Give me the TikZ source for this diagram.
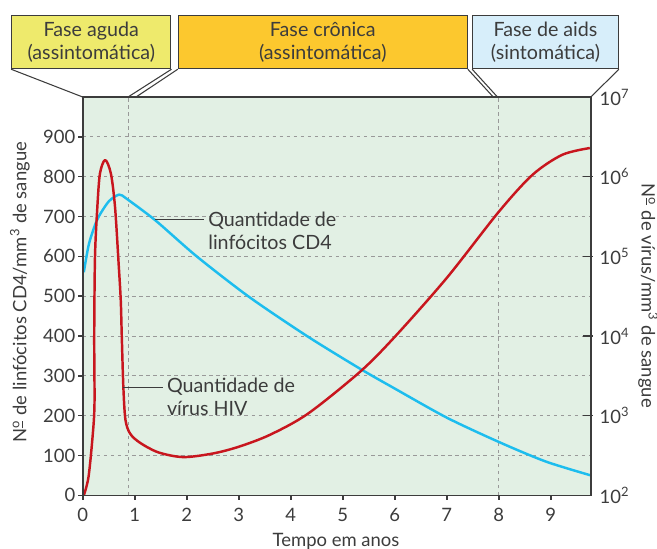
\documentclass[tikz,border=0pt]{standalone}
\usepackage{fontspec}
\setmainfont{Lato}
\usepackage{tikz}
\definecolor{plotbg}{HTML}{E2F0E4}
\definecolor{agudacol}{HTML}{EEEA6C}
\definecolor{cronicacol}{HTML}{FCC82E}
\definecolor{aidscol}{HTML}{D7EEFA}
\definecolor{viruscol}{HTML}{C8161E}
\definecolor{cdcol}{HTML}{1DBDEE}
\definecolor{framecol}{HTML}{3C3C3C}

\begin{document}
\begin{tikzpicture}[x=1.04cm, y=0.00796cm,
  txt/.style={font=\fontsize{10.5}{13}\selectfont, text=framecol},
  bigtxt/.style={font=\fontsize{11.2}{13}\selectfont, text=framecol},
  phasebox/.style={bigtxt, draw=framecol, line width=0.6pt, minimum height=1.06cm, inner sep=0pt, align=center},
  gridline/.style={gray!80, line width=0.5pt, dash pattern=on 2pt off 2pt},
  axisline/.style={framecol, line width=0.9pt},
  connector/.style={framecol, line width=0.6pt},
  curve/.style={line width=1.4pt, line join=round}]

\useasboundingbox (-1.592,-133.2) rectangle (11.042,1243.7);

\coordinate (o) at (0,0);
\coordinate (tl) at (0,1000);
\coordinate (tr) at (9.77,1000);
\coordinate (br) at (9.77,0);

\fill [plotbg] (o) rectangle (tr);

\foreach \v in {100,200,...,900}
  \draw [gridline] (0,\v) -- (9.77,\v);
\draw [gridline] (0.88,0) coordinate (acuteend) -- (0.88,1000);
\draw [gridline] (8,0) coordinate (aidsstart) -- (8,1000);

% CD4
\draw [curve, cdcol] plot[smooth, tension=0.45] coordinates {(0.02,560) (0.12,632) (0.28,693) (0.5,738) (0.70,755) (0.85,744) (1.4,690) (2.19,600) (3.2,498) (4.31,400) (5.33,318) (6.0,268) (7.0,195) (8.0,134) (8.9,85) (9.77,50)};

% HIV
\draw [curve, viruscol] plot[smooth, tension=0.5] coordinates {(0.02,0) (0.11,46) (0.19,150) (0.225,230) (0.22,400) (0.235,600) (0.28,724) (0.33,808) (0.43,842) (0.54,808) (0.62,724) (0.69,580) (0.73,490) (0.75,398) (0.78,272) (0.82,190) (0.91,155) (1.1,132) (1.45,108) (1.93,96) (2.5,105) (3.0,122) (3.6,152) (4.33,205) (5.33,310) (6.0,398) (7.0,546) (8.0,712) (8.65,805) (9.22,855) (9.75,872)};

\draw [axisline] (o) rectangle (tr);

\foreach \v in {0,100,...,900}
  \draw [axisline] (0,\v) -- ++(-0.1cm,0) node [txt, left, inner sep=1pt] {\v};
\foreach \x in {0,...,9}
  \draw [axisline] (\x,0) -- ++(0,-0.1cm) node [txt, below, inner sep=4pt] {\x};
\foreach \v/\e in {200/3,400/4,600/5,800/6}
  \draw [axisline] (9.77,\v) ++(-0.16cm,0) -- ++(0.2cm,0);
\foreach \v/\e in {0/2,200/3,400/4,600/5,800/6,1000/7}
  \node [txt, right, inner sep=0pt, xshift=0.17cm] at (9.77,\v) {10\textsuperscript{\e}};

\node [txt, rotate=90] (ytitle) at (-1.208,510) {N\textsuperscript{\underline{o}} de linfócitos CD4/mm\textsuperscript{3} de sangue};
\node [txt, rotate=-90] (y2title) at (10.869,501) {N\textsuperscript{\underline{o}} de vírus/mm\textsuperscript{3} de sangue};
\node [txt] (xtitle) at (4.87,-116) {Tempo em anos};

% phases
\node [phasebox, fill=agudacol, minimum width=3.186cm] (aguda) at (0.164,1137.7) {Fase aguda\\(assintomática)};
\node [phasebox, fill=cronicacol, minimum width=5.78cm] (cronica) at (4.615,1137.7) {Fase crônica\\(assintomática)};
\node [phasebox, fill=aidscol, minimum width=2.912cm] (aids) at (8.898,1137.7) {Fase de aids\\(sintomática)};

\draw [connector] (aguda.south west) -- (tl);
\draw [connector] (aguda.south east) -- (0.869,1000);
\draw [connector] (cronica.south west) -- (1.023,1000);
\draw [connector] (cronica.south east) -- (7.894,1000);
\draw [connector] (aids.south west) -- (7.975,1000);
\draw [connector] (aids.south east) -- (tr);

% labels
\node [bigtxt, align=left, anchor=west, inner sep=0pt] (lblcd) at (2.408,664.8) {Quantidade de\\linfócitos CD4};
\coordinate (cdpt) at (1.388,693.5);
\draw [connector] (cdpt) -- ([xshift=-2pt]cdpt -| lblcd.west);

\node [bigtxt, align=left, anchor=west, inner sep=0pt] (lblvirus) at (1.613,246.5) {Quantidade de\\vírus HIV};
\coordinate (viruspt) at (0.779,270.6);
\draw [connector] (viruspt) -- ([xshift=-2pt]viruspt -| lblvirus.west);

\end{tikzpicture}
\end{document}
